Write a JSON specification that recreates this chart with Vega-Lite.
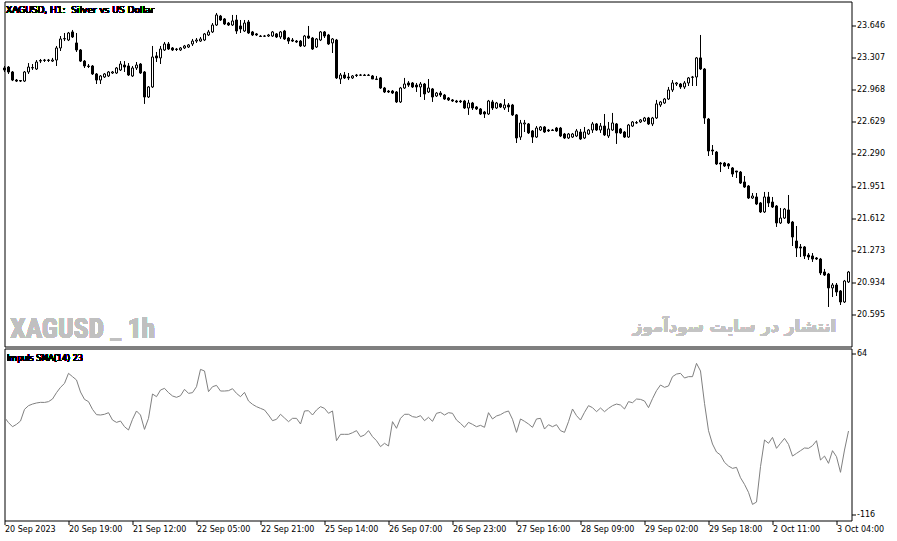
{
"$schema": "https://vega.github.io/schema/vega-lite/v6.json",
"background": "white",
"padding": {"left": 1.5, "top": 0.5, "right": 5, "bottom": 5},
"spacing": 0,
"config": {
  "view": {"stroke": "black", "strokeWidth": 1},
  "axis": {"grid": false, "domain": false, "tickColor": "black", "tickSize": 4, "labelColor": "black", "labelFont": "DejaVu Sans", "labelFontSize": 8, "labelPadding": 1, "labelOverlap": false}
},
"datasets": {"bars": [
{"i":0,"o":23.196,"h":23.217,"l":23.154,"c":23.175,"imp":-7.3},
{"i":1,"o":23.206,"h":23.217,"l":23.133,"c":23.154,"imp":-13.2},
{"i":2,"o":23.154,"h":23.164,"l":23.058,"c":23.069,"imp":-17.7},
{"i":3,"o":23.069,"h":23.080,"l":23.048,"c":23.058,"imp":-15.1},
{"i":4,"o":23.064,"h":23.069,"l":23.048,"c":23.058,"imp":-11.4},
{"i":5,"o":23.058,"h":23.164,"l":23.048,"c":23.154,"imp":1.6},
{"i":6,"o":23.154,"h":23.248,"l":23.133,"c":23.206,"imp":5.7},
{"i":7,"o":23.196,"h":23.238,"l":23.175,"c":23.201,"imp":7.5},
{"i":8,"o":23.185,"h":23.280,"l":23.175,"c":23.259,"imp":8.7},
{"i":9,"o":23.269,"h":23.291,"l":23.248,"c":23.275,"imp":9.4},
{"i":10,"o":23.275,"h":23.291,"l":23.259,"c":23.280,"imp":9.3},
{"i":11,"o":23.280,"h":23.291,"l":23.259,"c":23.275,"imp":10.2},
{"i":12,"o":23.269,"h":23.302,"l":23.259,"c":23.280,"imp":13.1},
{"i":13,"o":23.280,"h":23.428,"l":23.217,"c":23.407,"imp":20.2},
{"i":14,"o":23.407,"h":23.533,"l":23.375,"c":23.502,"imp":26.1},
{"i":15,"o":23.502,"h":23.565,"l":23.480,"c":23.507,"imp":30.5},
{"i":16,"o":23.491,"h":23.576,"l":23.480,"c":23.565,"imp":41.7},
{"i":17,"o":23.576,"h":23.597,"l":23.512,"c":23.523,"imp":38.0},
{"i":18,"o":23.460,"h":23.565,"l":23.365,"c":23.386,"imp":34.3},
{"i":19,"o":23.386,"h":23.396,"l":23.259,"c":23.269,"imp":20.9},
{"i":20,"o":23.269,"h":23.280,"l":23.196,"c":23.217,"imp":12.7},
{"i":21,"o":23.217,"h":23.238,"l":23.196,"c":23.212,"imp":10.2},
{"i":22,"o":23.217,"h":23.227,"l":23.122,"c":23.133,"imp":1.6},
{"i":23,"o":23.133,"h":23.143,"l":23.027,"c":23.069,"imp":-4.3},
{"i":24,"o":23.069,"h":23.122,"l":23.027,"c":23.112,"imp":-4.7},
{"i":25,"o":23.101,"h":23.143,"l":23.091,"c":23.133,"imp":-3.9},
{"i":26,"o":23.112,"h":23.164,"l":23.101,"c":23.154,"imp":-2.1},
{"i":27,"o":23.143,"h":23.164,"l":23.133,"c":23.154,"imp":-10.3},
{"i":28,"o":23.143,"h":23.206,"l":23.133,"c":23.196,"imp":-12.9},
{"i":29,"o":23.175,"h":23.269,"l":23.164,"c":23.238,"imp":-11.4},
{"i":30,"o":23.227,"h":23.269,"l":23.154,"c":23.206,"imp":-17.7},
{"i":31,"o":23.217,"h":23.248,"l":23.112,"c":23.122,"imp":-21.4},
{"i":32,"o":23.112,"h":23.217,"l":23.101,"c":23.196,"imp":-9.5},
{"i":33,"o":23.196,"h":23.259,"l":23.175,"c":23.227,"imp":-0.2},
{"i":34,"o":23.238,"h":23.248,"l":23.133,"c":23.143,"imp":-4.7},
{"i":35,"o":23.154,"h":23.164,"l":22.817,"c":22.890,"imp":-20.7},
{"i":36,"o":22.890,"h":23.006,"l":22.880,"c":22.996,"imp":-8.4},
{"i":37,"o":22.996,"h":23.428,"l":22.985,"c":23.312,"imp":18.7},
{"i":38,"o":23.323,"h":23.365,"l":23.259,"c":23.302,"imp":15.7},
{"i":39,"o":23.302,"h":23.428,"l":23.238,"c":23.396,"imp":23.1},
{"i":40,"o":23.386,"h":23.470,"l":23.375,"c":23.449,"imp":25.0},
{"i":41,"o":23.449,"h":23.470,"l":23.386,"c":23.396,"imp":20.2},
{"i":42,"o":23.407,"h":23.417,"l":23.375,"c":23.386,"imp":16.5},
{"i":43,"o":23.396,"h":23.407,"l":23.375,"c":23.391,"imp":15.0},
{"i":44,"o":23.386,"h":23.417,"l":23.375,"c":23.407,"imp":16.8},
{"i":45,"o":23.407,"h":23.439,"l":23.396,"c":23.428,"imp":23.9},
{"i":46,"o":23.417,"h":23.449,"l":23.407,"c":23.439,"imp":19.4},
{"i":47,"o":23.449,"h":23.502,"l":23.428,"c":23.480,"imp":20.2},
{"i":48,"o":23.480,"h":23.512,"l":23.460,"c":23.491,"imp":26.8},
{"i":49,"o":23.480,"h":23.523,"l":23.470,"c":23.502,"imp":46.1},
{"i":50,"o":23.491,"h":23.565,"l":23.480,"c":23.555,"imp":44.3},
{"i":51,"o":23.544,"h":23.597,"l":23.533,"c":23.576,"imp":21.3},
{"i":52,"o":23.576,"h":23.670,"l":23.565,"c":23.649,"imp":26.8},
{"i":53,"o":23.649,"h":23.776,"l":23.639,"c":23.755,"imp":28.3},
{"i":54,"o":23.744,"h":23.755,"l":23.692,"c":23.702,"imp":22.0},
{"i":55,"o":23.713,"h":23.723,"l":23.649,"c":23.660,"imp":22.0},
{"i":56,"o":23.670,"h":23.681,"l":23.639,"c":23.649,"imp":22.4},
{"i":57,"o":23.649,"h":23.755,"l":23.639,"c":23.692,"imp":24.6},
{"i":58,"o":23.702,"h":23.755,"l":23.555,"c":23.586,"imp":19.4},
{"i":59,"o":23.639,"h":23.702,"l":23.565,"c":23.607,"imp":15.7},
{"i":60,"o":23.586,"h":23.702,"l":23.576,"c":23.670,"imp":20.5},
{"i":61,"o":23.681,"h":23.702,"l":23.555,"c":23.565,"imp":10.9},
{"i":62,"o":23.576,"h":23.586,"l":23.533,"c":23.544,"imp":7.2},
{"i":63,"o":23.555,"h":23.565,"l":23.533,"c":23.544,"imp":4.6},
{"i":64,"o":23.533,"h":23.544,"l":23.523,"c":23.528,"imp":2.7},
{"i":65,"o":23.533,"h":23.544,"l":23.523,"c":23.531,"imp":0.9},
{"i":66,"o":23.533,"h":23.555,"l":23.523,"c":23.544,"imp":-4.7},
{"i":67,"o":23.533,"h":23.586,"l":23.523,"c":23.576,"imp":-11.0},
{"i":68,"o":23.555,"h":23.565,"l":23.512,"c":23.523,"imp":-9.5},
{"i":69,"o":23.523,"h":23.586,"l":23.502,"c":23.576,"imp":-3.9},
{"i":70,"o":23.586,"h":23.597,"l":23.491,"c":23.502,"imp":-8.0},
{"i":71,"o":23.512,"h":23.523,"l":23.449,"c":23.480,"imp":-12.1},
{"i":72,"o":23.491,"h":23.512,"l":23.470,"c":23.480,"imp":-8.4},
{"i":73,"o":23.480,"h":23.491,"l":23.460,"c":23.470,"imp":-8.4},
{"i":74,"o":23.480,"h":23.491,"l":23.417,"c":23.428,"imp":-14.7},
{"i":75,"o":23.428,"h":23.544,"l":23.417,"c":23.533,"imp":-0.2},
{"i":76,"o":23.533,"h":23.639,"l":23.502,"c":23.512,"imp":0.1},
{"i":77,"o":23.512,"h":23.523,"l":23.386,"c":23.396,"imp":-4.7},
{"i":78,"o":23.417,"h":23.512,"l":23.407,"c":23.502,"imp":0.9},
{"i":79,"o":23.491,"h":23.586,"l":23.480,"c":23.576,"imp":4.6},
{"i":80,"o":23.576,"h":23.586,"l":23.512,"c":23.533,"imp":2.7},
{"i":81,"o":23.544,"h":23.555,"l":23.439,"c":23.449,"imp":-2.8},
{"i":82,"o":23.460,"h":23.512,"l":23.354,"c":23.502,"imp":-0.2},
{"i":83,"o":23.491,"h":23.502,"l":23.080,"c":23.091,"imp":-33.3},
{"i":84,"o":23.080,"h":23.143,"l":23.027,"c":23.122,"imp":-26.2},
{"i":85,"o":23.122,"h":23.154,"l":23.080,"c":23.091,"imp":-26.2},
{"i":86,"o":23.101,"h":23.143,"l":23.069,"c":23.091,"imp":-26.2},
{"i":87,"o":23.091,"h":23.122,"l":23.080,"c":23.112,"imp":-24.4},
{"i":88,"o":23.122,"h":23.133,"l":23.101,"c":23.117,"imp":-22.1},
{"i":89,"o":23.122,"h":23.133,"l":23.112,"c":23.120,"imp":-28.8},
{"i":90,"o":23.122,"h":23.133,"l":23.112,"c":23.117,"imp":-27.0},
{"i":91,"o":23.117,"h":23.133,"l":23.112,"c":23.122,"imp":-22.1},
{"i":92,"o":23.112,"h":23.122,"l":23.080,"c":23.080,"imp":-28.8},
{"i":93,"o":23.080,"h":23.112,"l":23.069,"c":23.075,"imp":-33.3},
{"i":94,"o":23.091,"h":23.101,"l":22.975,"c":22.985,"imp":-39.9},
{"i":95,"o":22.985,"h":22.996,"l":22.932,"c":22.943,"imp":-36.2},
{"i":96,"o":22.953,"h":22.964,"l":22.932,"c":22.943,"imp":-39.2},
{"i":97,"o":22.953,"h":22.964,"l":22.922,"c":22.932,"imp":-12.1},
{"i":98,"o":22.943,"h":22.953,"l":22.827,"c":22.838,"imp":-19.5},
{"i":99,"o":22.838,"h":22.996,"l":22.827,"c":22.985,"imp":-8.4},
{"i":100,"o":22.985,"h":23.091,"l":22.975,"c":23.027,"imp":-3.9},
{"i":101,"o":23.038,"h":23.058,"l":22.996,"c":23.016,"imp":-3.9},
{"i":102,"o":23.038,"h":23.048,"l":22.985,"c":22.996,"imp":-6.5},
{"i":103,"o":23.016,"h":23.038,"l":22.943,"c":22.996,"imp":-7.3},
{"i":104,"o":22.996,"h":23.048,"l":22.890,"c":23.027,"imp":-5.4},
{"i":105,"o":23.027,"h":23.038,"l":22.859,"c":22.922,"imp":-11.0},
{"i":106,"o":22.943,"h":23.080,"l":22.932,"c":22.985,"imp":-7.3},
{"i":107,"o":22.975,"h":22.985,"l":22.838,"c":22.890,"imp":-11.7},
{"i":108,"o":22.901,"h":22.943,"l":22.890,"c":22.932,"imp":-2.8},
{"i":109,"o":22.932,"h":22.953,"l":22.890,"c":22.911,"imp":-1.7},
{"i":110,"o":22.911,"h":22.922,"l":22.859,"c":22.869,"imp":-4.7},
{"i":111,"o":22.880,"h":22.890,"l":22.848,"c":22.859,"imp":-2.1},
{"i":112,"o":22.859,"h":22.869,"l":22.838,"c":22.848,"imp":-2.8},
{"i":113,"o":22.848,"h":22.859,"l":22.827,"c":22.838,"imp":-10.3},
{"i":114,"o":22.848,"h":22.859,"l":22.827,"c":22.840,"imp":-14.0},
{"i":115,"o":22.848,"h":22.859,"l":22.764,"c":22.774,"imp":-18.4},
{"i":116,"o":22.774,"h":22.859,"l":22.701,"c":22.827,"imp":-12.9},
{"i":117,"o":22.827,"h":22.838,"l":22.753,"c":22.774,"imp":-15.1},
{"i":118,"o":22.785,"h":22.795,"l":22.753,"c":22.764,"imp":-17.7},
{"i":119,"o":22.764,"h":22.774,"l":22.701,"c":22.711,"imp":-16.2},
{"i":120,"o":22.732,"h":22.743,"l":22.669,"c":22.711,"imp":-18.4},
{"i":121,"o":22.711,"h":22.859,"l":22.701,"c":22.848,"imp":-2.1},
{"i":122,"o":22.838,"h":22.859,"l":22.753,"c":22.774,"imp":-9.1},
{"i":123,"o":22.774,"h":22.838,"l":22.764,"c":22.827,"imp":-5.8},
{"i":124,"o":22.817,"h":22.827,"l":22.774,"c":22.785,"imp":-4.3},
{"i":125,"o":22.774,"h":22.869,"l":22.753,"c":22.806,"imp":-1.7},
{"i":126,"o":22.806,"h":22.827,"l":22.732,"c":22.785,"imp":-0.2},
{"i":127,"o":22.806,"h":22.817,"l":22.690,"c":22.701,"imp":-9.5},
{"i":128,"o":22.701,"h":22.711,"l":22.405,"c":22.458,"imp":-24.0},
{"i":129,"o":22.468,"h":22.648,"l":22.437,"c":22.616,"imp":-9.1},
{"i":130,"o":22.606,"h":22.648,"l":22.521,"c":22.616,"imp":-11.7},
{"i":131,"o":22.606,"h":22.616,"l":22.500,"c":22.511,"imp":-14.7},
{"i":132,"o":22.532,"h":22.542,"l":22.405,"c":22.468,"imp":-18.4},
{"i":133,"o":22.468,"h":22.584,"l":22.458,"c":22.563,"imp":-9.1},
{"i":134,"o":22.542,"h":22.584,"l":22.532,"c":22.574,"imp":-8.4},
{"i":135,"o":22.574,"h":22.584,"l":22.511,"c":22.521,"imp":-20.3},
{"i":136,"o":22.542,"h":22.553,"l":22.521,"c":22.532,"imp":-15.5},
{"i":137,"o":22.542,"h":22.553,"l":22.532,"c":22.537,"imp":-17.7},
{"i":138,"o":22.563,"h":22.574,"l":22.521,"c":22.532,"imp":-15.5},
{"i":139,"o":22.563,"h":22.574,"l":22.468,"c":22.479,"imp":-22.1},
{"i":140,"o":22.500,"h":22.511,"l":22.447,"c":22.458,"imp":-24.0},
{"i":141,"o":22.458,"h":22.511,"l":22.447,"c":22.500,"imp":-12.1},
{"i":142,"o":22.468,"h":22.511,"l":22.458,"c":22.500,"imp":2.0},
{"i":143,"o":22.479,"h":22.553,"l":22.468,"c":22.532,"imp":-5.4},
{"i":144,"o":22.521,"h":22.553,"l":22.437,"c":22.447,"imp":-10.3},
{"i":145,"o":22.458,"h":22.574,"l":22.447,"c":22.521,"imp":-1.7},
{"i":146,"o":22.500,"h":22.553,"l":22.490,"c":22.542,"imp":5.7},
{"i":147,"o":22.542,"h":22.627,"l":22.511,"c":22.606,"imp":3.5},
{"i":148,"o":22.606,"h":22.616,"l":22.532,"c":22.542,"imp":-1.0},
{"i":149,"o":22.542,"h":22.616,"l":22.511,"c":22.584,"imp":3.1},
{"i":150,"o":22.584,"h":22.711,"l":22.479,"c":22.490,"imp":-1.0},
{"i":151,"o":22.479,"h":22.627,"l":22.458,"c":22.553,"imp":2.7},
{"i":152,"o":22.542,"h":22.722,"l":22.532,"c":22.616,"imp":5.7},
{"i":153,"o":22.606,"h":22.616,"l":22.395,"c":22.511,"imp":7.5},
{"i":154,"o":22.553,"h":22.563,"l":22.500,"c":22.511,"imp":6.4},
{"i":155,"o":22.521,"h":22.532,"l":22.458,"c":22.468,"imp":2.0},
{"i":156,"o":22.468,"h":22.606,"l":22.458,"c":22.595,"imp":10.2},
{"i":157,"o":22.584,"h":22.637,"l":22.574,"c":22.627,"imp":9.0},
{"i":158,"o":22.616,"h":22.637,"l":22.606,"c":22.621,"imp":13.1},
{"i":159,"o":22.627,"h":22.658,"l":22.616,"c":22.648,"imp":12.7},
{"i":160,"o":22.637,"h":22.680,"l":22.627,"c":22.669,"imp":10.9},
{"i":161,"o":22.669,"h":22.680,"l":22.595,"c":22.606,"imp":3.5},
{"i":162,"o":22.606,"h":22.680,"l":22.584,"c":22.669,"imp":13.5},
{"i":163,"o":22.669,"h":22.859,"l":22.658,"c":22.817,"imp":22.4},
{"i":164,"o":22.806,"h":22.848,"l":22.785,"c":22.838,"imp":28.7},
{"i":165,"o":22.827,"h":22.880,"l":22.817,"c":22.869,"imp":26.1},
{"i":166,"o":22.869,"h":22.996,"l":22.859,"c":22.964,"imp":27.6},
{"i":167,"o":22.964,"h":23.069,"l":22.943,"c":23.038,"imp":38.0},
{"i":168,"o":23.027,"h":23.048,"l":23.006,"c":23.038,"imp":40.9},
{"i":169,"o":23.027,"h":23.038,"l":22.975,"c":22.996,"imp":41.7},
{"i":170,"o":22.996,"h":23.058,"l":22.975,"c":23.038,"imp":36.5},
{"i":171,"o":23.038,"h":23.101,"l":23.006,"c":23.091,"imp":38.0},
{"i":172,"o":23.101,"h":23.112,"l":23.006,"c":23.098,"imp":38.0},
{"i":173,"o":23.101,"h":23.312,"l":23.006,"c":23.302,"imp":52.8},
{"i":174,"o":23.302,"h":23.544,"l":23.175,"c":23.185,"imp":44.3},
{"i":175,"o":23.185,"h":23.196,"l":22.606,"c":22.669,"imp":8.3},
{"i":176,"o":22.658,"h":22.669,"l":22.268,"c":22.321,"imp":-22.1},
{"i":177,"o":22.331,"h":22.384,"l":22.279,"c":22.321,"imp":-37.0},
{"i":178,"o":22.310,"h":22.321,"l":22.173,"c":22.184,"imp":-45.9},
{"i":179,"o":22.194,"h":22.205,"l":22.099,"c":22.184,"imp":-49.2},
{"i":180,"o":22.194,"h":22.205,"l":22.152,"c":22.163,"imp":-57.4},
{"i":181,"o":22.184,"h":22.194,"l":22.131,"c":22.163,"imp":-61.5},
{"i":182,"o":22.142,"h":22.152,"l":22.047,"c":22.078,"imp":-64.1},
{"i":183,"o":22.110,"h":22.110,"l":22.036,"c":22.099,"imp":-63.0},
{"i":184,"o":22.099,"h":22.110,"l":21.973,"c":21.983,"imp":-74.5},
{"i":185,"o":21.994,"h":22.057,"l":21.931,"c":21.941,"imp":-81.9},
{"i":186,"o":21.952,"h":21.962,"l":21.815,"c":21.825,"imp":-90.8},
{"i":187,"o":21.825,"h":21.878,"l":21.815,"c":21.846,"imp":-104.2},
{"i":188,"o":21.836,"h":21.878,"l":21.751,"c":21.762,"imp":-101.6},
{"i":189,"o":21.773,"h":21.783,"l":21.667,"c":21.678,"imp":-62.2},
{"i":190,"o":21.678,"h":21.889,"l":21.667,"c":21.836,"imp":-32.5},
{"i":191,"o":21.836,"h":21.889,"l":21.730,"c":21.773,"imp":-36.2},
{"i":192,"o":21.783,"h":21.836,"l":21.720,"c":21.730,"imp":-29.6},
{"i":193,"o":21.741,"h":21.751,"l":21.520,"c":21.562,"imp":-41.8},
{"i":194,"o":21.562,"h":21.720,"l":21.551,"c":21.614,"imp":-36.2},
{"i":195,"o":21.614,"h":21.720,"l":21.604,"c":21.709,"imp":-30.7},
{"i":196,"o":21.699,"h":21.857,"l":21.551,"c":21.562,"imp":-37.4},
{"i":197,"o":21.572,"h":21.583,"l":21.319,"c":21.414,"imp":-50.4},
{"i":198,"o":21.372,"h":21.530,"l":21.203,"c":21.298,"imp":-47.4},
{"i":199,"o":21.309,"h":21.340,"l":21.203,"c":21.298,"imp":-44.4},
{"i":200,"o":21.309,"h":21.319,"l":21.182,"c":21.214,"imp":-41.4},
{"i":201,"o":21.224,"h":21.245,"l":21.172,"c":21.203,"imp":-41.8},
{"i":202,"o":21.214,"h":21.245,"l":21.151,"c":21.182,"imp":-38.8},
{"i":203,"o":21.193,"h":21.203,"l":21.172,"c":21.182,"imp":-33.3},
{"i":204,"o":21.182,"h":21.193,"l":21.013,"c":21.035,"imp":-54.8},
{"i":205,"o":21.045,"h":21.077,"l":21.003,"c":21.013,"imp":-50.4},
{"i":206,"o":21.024,"h":21.035,"l":20.676,"c":20.877,"imp":-58.5},
{"i":207,"o":20.877,"h":20.929,"l":20.781,"c":20.908,"imp":-44.4},
{"i":208,"o":20.908,"h":20.929,"l":20.792,"c":20.834,"imp":-51.1},
{"i":209,"o":20.845,"h":20.855,"l":20.697,"c":20.729,"imp":-68.5},
{"i":210,"o":20.729,"h":20.961,"l":20.718,"c":20.950,"imp":-43.7},
{"i":211,"o":20.940,"h":21.056,"l":20.929,"c":21.045,"imp":-22.5}
]},
"vconcat": [
{
  "width": 847, "height": 345,
  "data": {"name": "bars"},
  "resolve": {"axis": {"x": "independent", "y": "independent"}},
  "layer": [
    {"mark": {"type": "rule", "color": "black", "strokeWidth": 1},
     "encoding": {
       "x": {"field": "i", "type": "quantitative", "scale": {"domain": [0, 211.75], "nice": false, "zero": false, "padding": 0}, "axis": null},
       "y": {"field": "l", "type": "quantitative", "scale": {"domain": [20.2595, 23.897], "nice": false, "zero": false, "padding": 0},
             "axis": {"orient": "right", "title": null, "values": [20.595, 20.934, 21.273, 21.612, 21.951, 22.290, 22.629, 22.968, 23.307, 23.646], "format": ".3f", "labelOverlap": false}},
       "y2": {"field": "h"}}},
    {"mark": {"type": "bar", "width": 2, "stroke": "black", "strokeWidth": 1},
     "encoding": {
       "x": {"field": "i", "type": "quantitative", "axis": null},
       "y": {"field": "o", "type": "quantitative", "axis": null},
       "y2": {"field": "c"},
       "fill": {"condition": {"test": "datum.c >= datum.o", "value": "white"}, "value": "black"}}},
    {"mark": {"type": "text", "text": "XAGUSD, H1: \u00a0Silver vs US Dollar", "align": "left", "baseline": "alphabetic", "font": "DejaVu Sans", "fontSize": 9, "color": "black"},
     "encoding": {"x": {"datum": 0.375, "type": "quantitative", "axis": null}, "y": {"datum": 23.771, "type": "quantitative", "axis": null}}},
    {"mark": {"type": "text", "text": "XAGUSD _ 1h", "align": "left", "baseline": "alphabetic", "font": "Liberation Sans Narrow, Roboto Condensed, DejaVu Sans Condensed, Liberation Sans", "fontSize": 27.5, "fontWeight": "bold", "color": "#c0c0c0"},
     "encoding": {"x": {"datum": 1.45, "type": "quantitative", "axis": null}, "y": {"datum": 20.349, "type": "quantitative", "axis": null}}},
    {"mark": {"type": "text", "text": "انتشار در سایت سودآموز", "align": "right", "baseline": "alphabetic", "font": "DejaVu Sans", "fontSize": 16.5, "fontWeight": "bold", "color": "#c4c4c4"},
     "encoding": {"x": {"datum": 207.9, "type": "quantitative", "axis": null}, "y": {"datum": 20.412, "type": "quantitative", "axis": null}}}
  ]
},
{
  "width": 847, "height": 172,
  "data": {"name": "bars"},
  "resolve": {"axis": {"x": "independent", "y": "independent"}},
  "layer": [
    {"mark": {"type": "line", "color": "#808080", "strokeWidth": 1},
     "encoding": {
       "x": {"field": "i", "type": "quantitative", "scale": {"domain": [0, 211.75], "nice": false, "zero": false, "padding": 0},
             "axis": {"orient": "bottom", "title": null, "values": [0, 16, 32, 48, 64, 80, 96, 112, 128, 144, 160, 176, 192, 208],
                      "labelExpr": "['20 Sep 2023','20 Sep 19:00','21 Sep 12:00','22 Sep 05:00','22 Sep 21:00','25 Sep 14:00','26 Sep 07:00','26 Sep 23:00','27 Sep 16:00','28 Sep 09:00','29 Sep 02:00','29 Sep 18:00','2 Oct 11:00','3 Oct 04:00'][round(datum.value/16)]",
                      "labelAlign": "left", "labelBaseline": "top", "labelFlush": false, "labelOverlap": false, "labelBound": false}},
       "y": {"field": "imp", "type": "quantitative", "scale": {"domain": [-122.13, 69.34], "nice": false, "zero": false, "padding": 0},
             "axis": {"orient": "right", "title": null, "values": [64, -116], "labelExpr": "'' + datum.value", "labelOverlap": false}}}},
    {"mark": {"type": "text", "text": "Impuls SMA(14) 23", "align": "left", "baseline": "alphabetic", "font": "DejaVu Sans", "fontSize": 8, "color": "black"},
     "encoding": {"x": {"datum": 0.625, "type": "quantitative", "axis": null}, "y": {"datum": 55.4, "type": "quantitative", "axis": null}}}
  ]
}
]
}
